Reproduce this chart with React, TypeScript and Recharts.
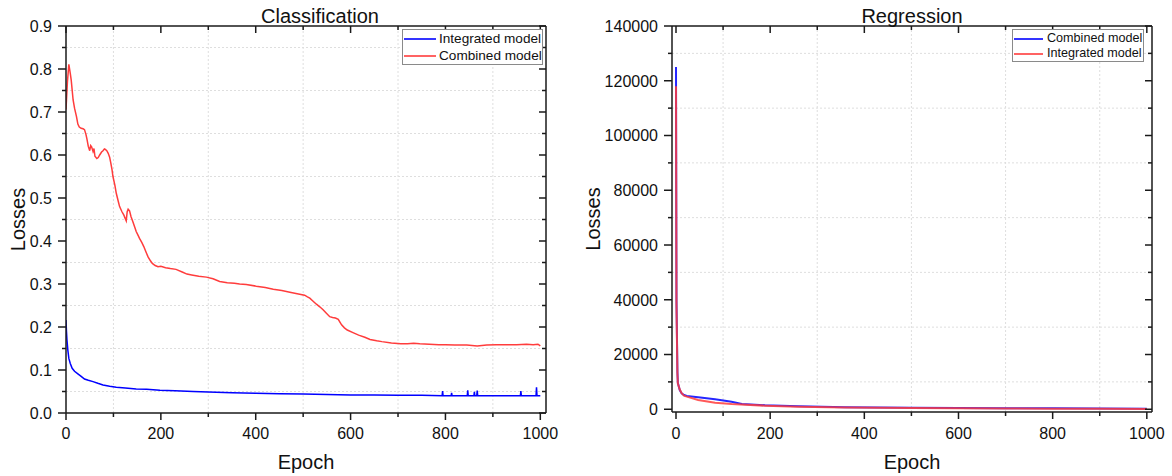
import React from 'react';
import { LineChart, Line, XAxis, YAxis, ReferenceLine, Legend } from 'recharts';

const FONT = "'Liberation Sans', Arial, Helvetica, sans-serif";
const AXIS = '#1a1a1a';
const GRID = '#dedede';
const BLUE = '#0000ff';
const RED = '#ff3c3c';

// ---------- Classification (left) ----------
const clsTitle = 'Classification';
const clsEpochMajor = [0, 200, 400, 600, 800, 1000];
const clsEpochMinor = [100, 300, 500, 700, 900];
const clsLossMajor = [0, 0.1, 0.2, 0.3, 0.4, 0.5, 0.6, 0.7, 0.8, 0.9];
const clsLossMinor = [0.05, 0.15, 0.25, 0.35, 0.45, 0.55, 0.65, 0.75, 0.85];
const clsSeriesNames = ['Integrated model', 'Combined model'];

const clsIntegrated: [number, number][] = [
  [0, 0.216], [1, 0.19], [2, 0.17], [4, 0.145], [6, 0.127], [9, 0.115], [13, 0.104], [18, 0.097],
  [25, 0.091], [32, 0.085], [39, 0.079], [47, 0.076], [57, 0.073], [67, 0.069], [78, 0.065],
  [92, 0.062], [106, 0.06], [125, 0.058], [148, 0.056], [170, 0.055], [198, 0.053], [230, 0.052],
  [268, 0.05], [300, 0.049], [350, 0.047], [400, 0.046], [450, 0.045], [500, 0.044], [550, 0.043],
  [600, 0.042], [650, 0.042], [700, 0.041], [750, 0.041], [793, 0.04], [794, 0.051], [795, 0.04],
  [812, 0.04], [813, 0.047], [814, 0.04], [846, 0.04], [847, 0.053], [848, 0.04], [860, 0.04],
  [861, 0.049], [862, 0.04], [866, 0.04], [867, 0.052], [868, 0.04], [958, 0.04], [959, 0.051],
  [960, 0.04], [991, 0.04], [992, 0.06], [993, 0.04], [1000, 0.04],
];

const clsCombined: [number, number][] = [
  [0, 0.706], [3, 0.77], [6, 0.811], [9, 0.79], [11, 0.774], [15, 0.728], [18, 0.709], [22, 0.69],
  [25, 0.672], [28, 0.665], [32, 0.662], [36, 0.661], [39, 0.659], [42, 0.648], [44, 0.638],
  [47, 0.62], [50, 0.61], [52, 0.622], [54, 0.619], [57, 0.608], [59, 0.615], [61, 0.597],
  [65, 0.592], [68, 0.594], [71, 0.6], [75, 0.607], [78, 0.61], [81, 0.614], [83, 0.613],
  [86, 0.61], [89, 0.604], [92, 0.595], [94, 0.584], [97, 0.566], [99, 0.55], [103, 0.53],
  [106, 0.511], [110, 0.493], [113, 0.48], [118, 0.468], [122, 0.46], [125, 0.452], [127, 0.447],
  [129, 0.468], [131, 0.474], [134, 0.47], [137, 0.457], [141, 0.445], [145, 0.432], [148, 0.422],
  [152, 0.413], [155, 0.406], [160, 0.396], [164, 0.387], [168, 0.376], [173, 0.363], [178, 0.354],
  [182, 0.348], [188, 0.343], [194, 0.34], [200, 0.341], [210, 0.338], [220, 0.336], [232, 0.334],
  [245, 0.328], [255, 0.323], [265, 0.321], [280, 0.318], [296, 0.316], [310, 0.312], [324, 0.306],
  [340, 0.303], [355, 0.302], [366, 0.3], [380, 0.299], [401, 0.295], [420, 0.292], [437, 0.288],
  [455, 0.285], [472, 0.281], [490, 0.277], [503, 0.274], [509, 0.27], [514, 0.267], [521, 0.26],
  [528, 0.253], [535, 0.247], [542, 0.24], [549, 0.232], [556, 0.224], [562, 0.222], [568, 0.221],
  [574, 0.218], [581, 0.205], [587, 0.198], [593, 0.193], [605, 0.187], [617, 0.181], [630, 0.176],
  [641, 0.171], [655, 0.168], [666, 0.166], [686, 0.163], [706, 0.161], [720, 0.161], [733, 0.162],
  [746, 0.161], [766, 0.16], [786, 0.159], [800, 0.159], [820, 0.158], [845, 0.158], [867, 0.156],
  [887, 0.158], [907, 0.159], [930, 0.159], [950, 0.159], [971, 0.16], [985, 0.159], [995, 0.16],
  [1000, 0.156],
];

// ---------- Regression (right) ----------
const regTitle = 'Regression';
const regEpochMajor = [0, 200, 400, 600, 800, 1000];
const regEpochMinor = [100, 300, 500, 700, 900];
const regLossMajor = [0, 20000, 40000, 60000, 80000, 100000, 120000, 140000];
const regLossMinor = [10000, 30000, 50000, 70000, 90000, 110000, 130000];
const regSeriesNames = ['Combined model', 'Integrated model'];

const regCombined: [number, number][] = [
  [0, 125000], [1, 40000], [3, 13700], [4, 9600], [8, 7000], [12, 5800], [17, 5200], [23, 4850],
  [47, 4380], [83, 3650], [118, 2770], [140, 1930], [189, 1460], [260, 1090], [359, 730],
  [500, 580], [600, 480], [700, 400], [800, 330], [900, 260], [1000, 170],
];

const regIntegrated: [number, number][] = [
  [0, 118000], [1, 38000], [3, 13000], [4, 9400], [8, 7200], [12, 5900], [17, 5000], [23, 4600],
  [47, 3400], [83, 2400], [118, 1930], [189, 1310], [260, 950], [359, 600], [500, 450],
  [600, 380], [700, 300], [800, 230], [900, 170], [1000, 80],
];

const toRows = (arr: [number, number][]) => arr.map(([epoch, loss]) => ({ epoch, loss }));

const isIn = (v: number, arr: number[]) => arr.some((a) => Math.abs(a - v) < 1e-9);
const sortNum = (a: number[]) => [...a].sort((x, y) => x - y);

const leftTick = (majors: number[], fmt: (v: number) => string, gap: number) => (p: any) => {
  const v = p.payload.value;
  const major = isIn(v, majors);
  return (
    <g>
      <line x1={p.x} y1={p.y} x2={p.x - (major ? 8 : 4)} y2={p.y} stroke={AXIS} strokeWidth={1.5} />
      {major && (
        <text x={p.x - 8 - gap} y={p.y} dy="0.36em" textAnchor="end" fontSize={16} fontFamily={FONT} fill="#111">
          {fmt(v)}
        </text>
      )}
    </g>
  );
};

const bottomTick = (majors: number[], off: number) => (p: any) => {
  const v = p.payload.value;
  const major = isIn(v, majors);
  return (
    <g>
      <line x1={p.x} y1={p.y} x2={p.x} y2={p.y + (major ? 7 : 4)} stroke={AXIS} strokeWidth={1.5} />
      {major && (
        <text x={p.x} y={p.y + off} textAnchor="middle" fontSize={16} fontFamily={FONT} fill="#111">
          {String(v)}
        </text>
      )}
    </g>
  );
};

const topTick = (majors: number[]) => (p: any) => {
  const major = isIn(p.payload.value, majors);
  return <line x1={p.x} y1={p.y} x2={p.x} y2={p.y + (major ? 7 : 4)} stroke={AXIS} strokeWidth={1.5} />;
};

const rightTick = (majors: number[]) => (p: any) => {
  const major = isIn(p.payload.value, majors);
  return <line x1={p.x} y1={p.y} x2={p.x - (major ? 7 : 4)} y2={p.y} stroke={AXIS} strokeWidth={1.5} />;
};

type LegCfg = { w: number; h: number; fs: number; rowH: number; pt: number; lineW: number; gap: number };
const makeLegend = (order: string[], colors: string[], cfg: LegCfg) => (props: any) => {
  const payload: any[] = props.payload || [];
  const items = order.map((n, i) => {
    const found = payload.find((p) => p.value === n);
    return { value: n, color: (found && found.payload && found.payload.stroke) || colors[i] };
  });
  return (
    <div
      style={{
        width: cfg.w,
        height: cfg.h,
        boxSizing: 'border-box',
        border: '1px solid #8a8a8a',
        background: '#fff',
        fontFamily: FONT,
        fontSize: cfg.fs,
        color: '#111',
        paddingTop: cfg.pt,
      }}
    >
      {items.map((it: any) => (
        <div key={it.value} style={{ display: 'flex', alignItems: 'center', height: cfg.rowH, lineHeight: `${cfg.rowH}px` }}>
          <svg width={cfg.lineW} height={4} style={{ marginLeft: 1, marginRight: cfg.gap, display: 'block' }}>
            <line x1={0} x2={cfg.lineW} y1={2} y2={2} stroke={it.color} strokeWidth={1.6} />
          </svg>
          <span style={{ whiteSpace: 'nowrap' }}>{it.value}</span>
        </div>
      ))}
    </div>
  );
};

const axisLine = { stroke: AXIS, strokeWidth: 1.5 };
const gridProps = { stroke: GRID, strokeDasharray: '2 2', strokeWidth: 1 };

function ClassificationChart() {
  const xTicks = sortNum([...clsEpochMajor, ...clsEpochMinor]);
  const yTicks = sortNum([...clsLossMajor, ...clsLossMinor]);
  return (
    <LineChart width={600} height={476} margin={{ top: 25, right: 53, bottom: 62, left: 65 }}>
      <XAxis xAxisId="b" type="number" dataKey="epoch" domain={[0, 1012]} allowDataOverflow ticks={xTicks} interval={0}
        height={1} tickSize={0} tickMargin={0} axisLine={axisLine} tickLine={false} tick={bottomTick(clsEpochMajor, 26)} />
      <XAxis xAxisId="t" orientation="top" type="number" dataKey="epoch" domain={[0, 1012]} allowDataOverflow ticks={xTicks} interval={0}
        height={1} tickSize={0} tickMargin={0} axisLine={axisLine} tickLine={false} tick={topTick(clsEpochMajor)} />
      <YAxis yAxisId="l" type="number" dataKey="loss" domain={[0, 0.9]} allowDataOverflow ticks={yTicks} interval={0}
        width={1} tickSize={0} tickMargin={0} axisLine={axisLine} tickLine={false} tick={leftTick(clsLossMajor, (v) => v.toFixed(1), 6)} />
      <YAxis yAxisId="r" orientation="right" type="number" dataKey="loss" domain={[0, 0.9]} allowDataOverflow ticks={yTicks} interval={0}
        width={1} tickSize={0} tickMargin={0} axisLine={axisLine} tickLine={false} tick={rightTick(clsLossMajor)} />
      {clsEpochMinor.map((v) => (
        <ReferenceLine key={'vx' + v} x={v} xAxisId="b" yAxisId="l" {...gridProps} />
      ))}
      {clsLossMinor.map((v) => (
        <ReferenceLine key={'hy' + v} y={v} xAxisId="b" yAxisId="l" {...gridProps} />
      ))}
      <Line xAxisId="b" yAxisId="l" data={toRows(clsIntegrated)} dataKey="loss" name={clsSeriesNames[0]} type="linear"
        stroke={BLUE} strokeWidth={1.5} dot={false} isAnimationActive={false} />
      <Line xAxisId="b" yAxisId="l" data={toRows(clsCombined)} dataKey="loss" name={clsSeriesNames[1]} type="linear"
        stroke={RED} strokeWidth={1.5} dot={false} isAnimationActive={false} />
      <Legend layout="vertical" align="center" verticalAlign="middle"
        wrapperStyle={{ left: 402, top: 29, width: 141, height: 36 }}
        content={makeLegend(clsSeriesNames, [BLUE, RED], { w: 141, h: 36, fs: 13.6, rowH: 17, pt: 0, lineW: 32, gap: 3 })} />
    </LineChart>
  );
}

function RegressionChart() {
  const xTicks = sortNum([...regEpochMajor, ...regEpochMinor]);
  const yTicks = sortNum([...regLossMajor, ...regLossMinor]);
  return (
    <LineChart width={572} height={476} margin={{ top: 25, right: 19, bottom: 63, left: 71 }}>
      <XAxis xAxisId="b" type="number" dataKey="epoch" domain={[-8.5, 1011]} allowDataOverflow ticks={xTicks} interval={0}
        height={1} tickSize={0} tickMargin={0} axisLine={axisLine} tickLine={false} tick={bottomTick(regEpochMajor, 27)} />
      <XAxis xAxisId="t" orientation="top" type="number" dataKey="epoch" domain={[-8.5, 1011]} allowDataOverflow ticks={xTicks} interval={0}
        height={1} tickSize={0} tickMargin={0} axisLine={axisLine} tickLine={false} tick={topTick(regEpochMajor)} />
      <YAxis yAxisId="l" type="number" dataKey="loss" domain={[-1000, 140000]} allowDataOverflow ticks={yTicks} interval={0}
        width={1} tickSize={0} tickMargin={0} axisLine={axisLine} tickLine={false} tick={leftTick(regLossMajor, (v) => String(v), 6)} />
      <YAxis yAxisId="r" orientation="right" type="number" dataKey="loss" domain={[-1000, 140000]} allowDataOverflow ticks={yTicks} interval={0}
        width={1} tickSize={0} tickMargin={0} axisLine={axisLine} tickLine={false} tick={rightTick(regLossMajor)} />
      {regEpochMinor.map((v) => (
        <ReferenceLine key={'vx' + v} x={v} xAxisId="b" yAxisId="l" {...gridProps} />
      ))}
      {regLossMinor.map((v) => (
        <ReferenceLine key={'hy' + v} y={v} xAxisId="b" yAxisId="l" {...gridProps} />
      ))}
      <Line xAxisId="b" yAxisId="l" data={toRows(regCombined)} dataKey="loss" name={regSeriesNames[0]} type="linear"
        stroke={BLUE} strokeWidth={2} strokeOpacity={0.85} dot={false} isAnimationActive={false} />
      <Line xAxisId="b" yAxisId="l" data={toRows(regIntegrated)} dataKey="loss" name={regSeriesNames[1]} type="linear"
        stroke={RED} strokeWidth={2} strokeOpacity={0.85} dot={false} isAnimationActive={false} />
      <Legend layout="vertical" align="center" verticalAlign="middle"
        wrapperStyle={{ left: 412, top: 29, width: 132, height: 33 }}
        content={makeLegend(regSeriesNames, [BLUE, RED], { w: 132, h: 33, fs: 12.6, rowH: 15.4, pt: 1, lineW: 29, gap: 4 })} />
    </LineChart>
  );
}

export default function App() {
  return (
    <div style={{ position: 'absolute', left: 0, top: 0, width: 1172, height: 476, background: '#fff', overflow: 'hidden' }}>
      <div style={{ position: 'absolute', left: 0, top: 0 }}>
        <ClassificationChart />
      </div>
      <div style={{ position: 'absolute', left: 600, top: 0 }}>
        <RegressionChart />
      </div>
      <svg width={1172} height={476} style={{ position: 'absolute', left: 0, top: 0, pointerEvents: 'none' }}>
        <g fontFamily={FONT} fontSize={20} fill="#111">
          <text x={320} y={23} textAnchor="middle">{clsTitle}</text>
          <text x={912} y={23} textAnchor="middle">{regTitle}</text>
          <text x={306} y={469} textAnchor="middle">Epoch</text>
          <text x={912} y={469} textAnchor="middle">Epoch</text>
          <text x={25} y={219.5} textAnchor="middle" transform="rotate(-90 25 219.5)">Losses</text>
          <text x={600} y={219} textAnchor="middle" transform="rotate(-90 600 219)">Losses</text>
        </g>
      </svg>
    </div>
  );
}
